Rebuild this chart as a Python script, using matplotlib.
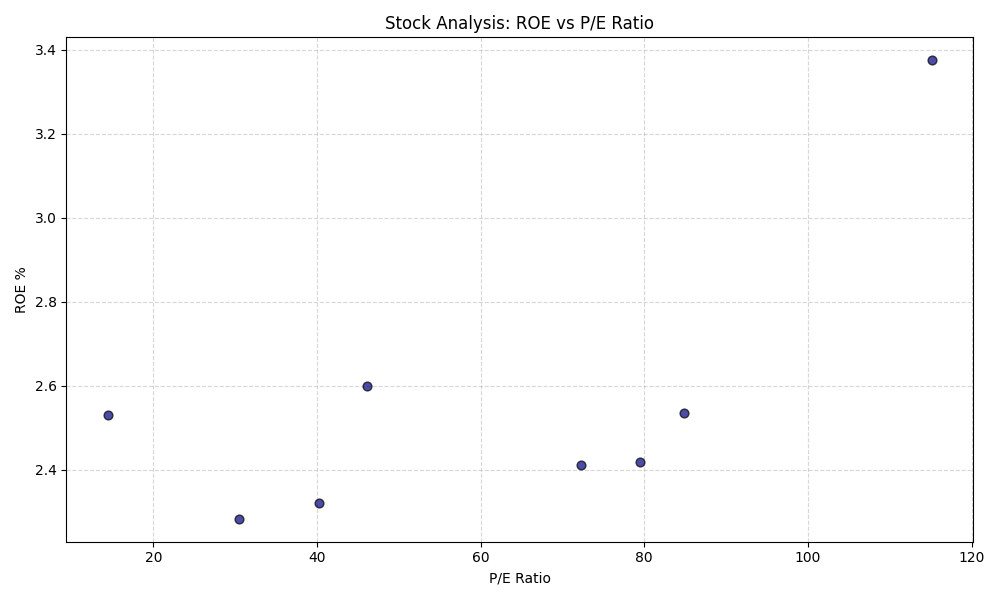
import matplotlib
matplotlib.use('Agg')
import matplotlib.pyplot as plt

# P/E ratio and ROE values
pe_ratio = [14.4, 30.5, 40.2, 46.1, 72.3, 79.5, 84.9, 115.2]
roe_pct = [2.531, 2.283, 2.321, 2.600, 2.412, 2.419, 2.536, 3.375]

fig, ax = plt.subplots(figsize=(10, 6), dpi=100)
ax.scatter(pe_ratio, roe_pct, color='navy', alpha=0.7, edgecolors='black', s=40, zorder=3)
ax.set_title('Stock Analysis: ROE vs P/E Ratio')
ax.set_xlabel('P/E Ratio')
ax.set_ylabel('ROE %')
ax.grid(True, linestyle='--', alpha=0.5)
plt.tight_layout()
plt.savefig('out.png')
